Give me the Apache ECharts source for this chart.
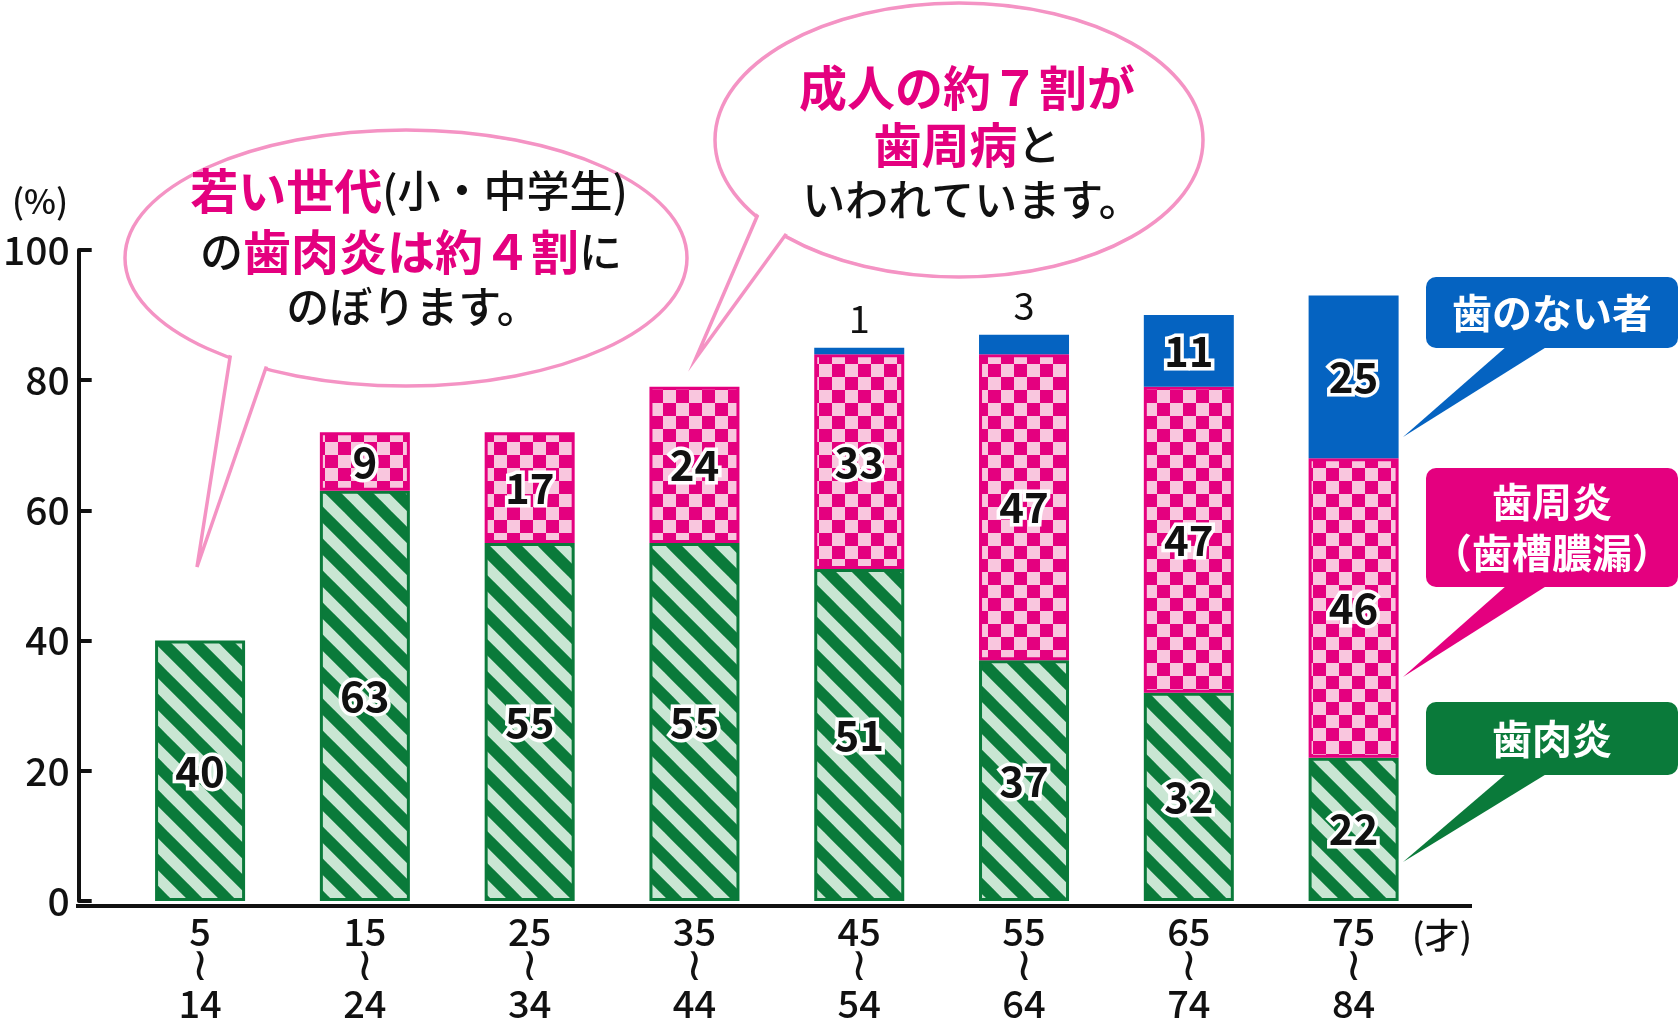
<!DOCTYPE html>
<html>
<head>
<meta charset="UTF-8">
<title>年代別 歯周病の割合</title>
<script src="https://cdn.jsdelivr.net/npm/echarts@6/dist/echarts.min.js"></script>
<style>
  html, body { margin: 0; padding: 0; background: #fff; }
  #main { width: 1680px; height: 1023px; }
</style>
</head>
<body>
<div id="main"></div>
<script>
// 年齢階級（上段・下段）
var ageFrom = ['5', '15', '25', '35', '45', '55', '65', '75'];
var ageTo = ['14', '24', '34', '44', '54', '64', '74', '84'];
// 歯肉炎 / 歯周炎（歯槽膿漏） / 歯のない者 (%)
var gingivitis = [40, 63, 55, 55, 51, 37, 32, 22];
var periodontitis = [null, 9, 17, 24, 33, 47, 47, 46];
var toothless = [null, null, null, null, 1, 3, 11, 25];

var FONT = "'Noto Sans CJK JP', 'Noto Sans', sans-serif";
var GREEN = '#0a7a3a', LIGHT_GREEN = '#c9e6d3';
var MAGENTA = '#e4007f', LIGHT_PINK = '#f9c6de';
var BLUE = '#0563c1';
var BUBBLE = '#f493c4';

// 斜線パターン（歯肉炎）
function stripePattern() {
    var s = 32, c = document.createElement('canvas');
    c.width = c.height = s;
    var g = c.getContext('2d');
    g.fillStyle = LIGHT_GREEN;
    g.fillRect(0, 0, s, s);
    g.strokeStyle = GREEN;
    g.lineWidth = 11.5;
    for (var k = -s; k <= s; k += s) {
        g.beginPath();
        g.moveTo(k - 4, -4);
        g.lineTo(k + s + 4, s + 4);
        g.stroke();
    }
    return c;
}
// 市松パターン（歯周炎）
function checkerPattern() {
    var q = 13, c = document.createElement('canvas');
    c.width = c.height = q * 2;
    var g = c.getContext('2d');
    g.fillStyle = LIGHT_PINK;
    g.fillRect(0, 0, q * 2, q * 2);
    g.fillStyle = MAGENTA;
    g.fillRect(0, 0, q, q);
    g.fillRect(q, q, q, q);
    return c;
}

var numLabel = {
    show: true,
    position: 'inside',
    fontFamily: FONT,
    fontSize: 42,
    fontWeight: 'bold',
    color: '#111',
    textBorderColor: '#fff',
    textBorderWidth: 7,
    formatter: function (p) { return p.value == null ? '' : p.value; }
};
var smallTopLabel = {
    position: 'top',
    distance: 10,
    fontSize: 38,
    fontWeight: 'normal',
    textBorderWidth: 0
};

// 吹き出し
function bubble(cx, cy, rx, ry, tail, z) {
    return [
        { type: 'ellipse', z: z, shape: { cx: cx, cy: cy, rx: rx, ry: ry },
          style: { fill: '#fff', stroke: BUBBLE, lineWidth: 3.5 } },
        { type: 'polygon', z: z + 1, shape: { points: tail },
          style: { fill: '#fff', stroke: BUBBLE, lineWidth: 3.5, lineJoin: 'miter' } },
        { type: 'ellipse', z: z + 2, shape: { cx: cx, cy: cy, rx: rx - 2.5, ry: ry - 2.5 },
          style: { fill: '#fff' } }
    ];
}
var bubbleRich = {
    m: { fontFamily: FONT, fontSize: 48, fontWeight: 'bold', fill: MAGENTA, color: MAGENTA },
    k: { fontFamily: FONT, fontSize: 43, fontWeight: 500, fill: '#111', color: '#111' }
};
function bubbleLine(x, y, text) {
    return { type: 'text', z: 20, x: x, y: y,
             style: { text: text, rich: bubbleRich, align: 'center', verticalAlign: 'middle' } };
}
// 凡例ボックス
function callout(x, y, w, h, color, lines, pointer) {
    var items = [
        { type: 'rect', z: 10, shape: { x: x, y: y, width: w, height: h, r: 10 }, style: { fill: color } },
        { type: 'polygon', z: 10, shape: { points: pointer }, style: { fill: color } }
    ];
    var lh = 51, y0 = y + h / 2 - (lines.length - 1) * lh / 2;
    lines.forEach(function (t, i) {
        items.push({ type: 'text', z: 11, x: x + w / 2, y: y0 + i * lh,
            style: { text: t, fill: '#fff', fontFamily: FONT, fontSize: 40, fontWeight: 'bold',
                     align: 'center', verticalAlign: 'middle' } });
    });
    return items;
}

var graphics = [].concat(
    bubble(406, 258, 281, 128, [[232, 345], [270, 356], [197, 567]], 5),
    [bubbleLine(409, 191, '{m|若い世代}{k|(小・中学生)}'),
     bubbleLine(411, 252, '{k|の}{m|歯肉炎は約４割}{k|に}'),
     bubbleLine(413, 307, '{k|のぼります。}')],
    bubble(959, 140, 244, 137, [[762, 205], [792, 226], [696, 358]], 5),
    [bubbleLine(967, 88, '{m|成人の約７割が}'),
     bubbleLine(967, 145, '{m|歯周病}{k|と}'),
     bubbleLine(972, 200, '{k|いわれています。}')],
    callout(1426, 277, 252, 71, BLUE, ['歯のない者'], [[1507, 346], [1548, 346], [1403, 437]]),
    callout(1426, 468, 252, 119, MAGENTA, ['歯周炎', '（歯槽膿漏）'], [[1507, 585], [1548, 585], [1403, 677]]),
    callout(1426, 702, 252, 73, GREEN, ['歯肉炎'], [[1507, 773], [1548, 773], [1403, 862]]),
    [
        { type: 'text', z: 5, x: 40, y: 201,
          style: { text: '(%)', fill: '#111', fontFamily: FONT, fontSize: 34, fontWeight: 500,
                   align: 'center', verticalAlign: 'middle' } },
        { type: 'text', z: 5, x: 1442, y: 936,
          style: { text: '(才)', fill: '#111', fontFamily: FONT, fontSize: 35, fontWeight: 500,
                   align: 'center', verticalAlign: 'middle' } },
        // 横軸の線（グリッドより左右に少し長い）
        { type: 'line', z: 8, shape: { x1: 76, y1: 906, x2: 1472, y2: 906 },
          style: { stroke: '#111', lineWidth: 4 } }
    ]
);

var chart = echarts.init(document.getElementById('main'));
var option = {
    animation: false,
    backgroundColor: '#fff',
    grid: { left: 115, top: 250, width: 1321, height: 656, containLabel: false },
    xAxis: {
        type: 'category',
        data: ageFrom.map(function (a, i) { return '{n|' + a + '}\n{w|≀}\n{n|' + ageTo[i] + '}'; }),
        axisLine: { show: false },
        axisTick: { show: false },
        axisLabel: {
            color: '#111', fontFamily: FONT, fontSize: 38, fontWeight: 500, margin: 13, interval: 0,
            rich: {
                n: { fontFamily: FONT, fontSize: 38, fontWeight: 500, lineHeight: 36, color: '#111' },
                w: { fontFamily: 'DejaVu Sans', fontSize: 46, lineHeight: 36, color: '#111' }
            }
        }
    },
    yAxis: {
        type: 'value',
        min: 0, max: 100, interval: 20,
        offset: 39,
        splitLine: { show: false },
        axisLine: { show: true, lineStyle: { color: '#111', width: 4 } },
        axisTick: { show: true, inside: true, length: 13, lineStyle: { color: '#111', width: 4 } },
        axisLabel: { color: '#111', fontFamily: FONT, fontSize: 39, fontWeight: 500, margin: 9 }
    },
    series: [
        {
            name: '歯肉炎', type: 'bar', stack: 'total', barWidth: 90,
            data: gingivitis,
            itemStyle: { color: { image: stripePattern(), repeat: 'repeat' }, borderColor: GREEN, borderWidth: 3 },
            label: numLabel
        },
        {
            name: '歯周炎（歯槽膿漏）', type: 'bar', stack: 'total', barWidth: 90,
            data: periodontitis,
            itemStyle: { color: { image: checkerPattern(), repeat: 'repeat' }, borderColor: MAGENTA, borderWidth: 3 },
            label: numLabel
        },
        {
            name: '歯のない者', type: 'bar', stack: 'total', barWidth: 90,
            data: toothless.map(function (v) {
                return (v != null && v < 5) ? { value: v, label: smallTopLabel } : v;
            }),
            itemStyle: { color: BLUE },
            label: numLabel
        }
    ],
    graphic: graphics
};
chart.setOption(option);
</script>
</body>
</html>
